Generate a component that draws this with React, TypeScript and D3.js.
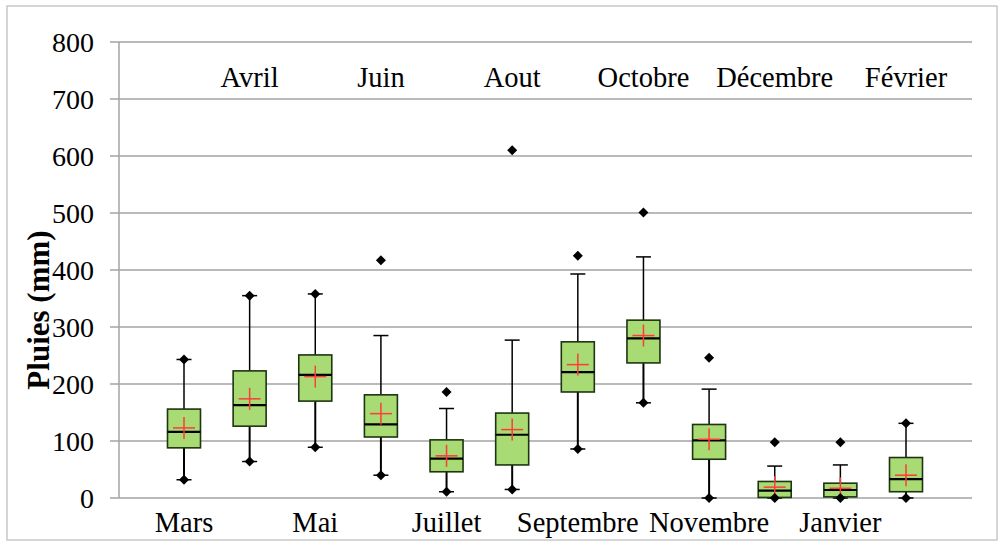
import React from "react";
import * as d3 from "d3";

const months = ["Mars","Avril","Mai","Juin","Juillet","Aout","Septembre","Octobre","Novembre","Décembre","Janvier","Février"];
const q1 = [88,126,170,107,46,58,186,237,68,1,2,11];
const median = [116,163,216,129,69,111,221,280,101,13,14,33];
const q3 = [156,223,251,181,102,149,274,312,129,29,26,71];
const whiskerLow = [32,64,89,40,11,15,86,167,0,0,0,0];
const whiskerHigh = [243,355,358,285,157,277,393,423,191,56,58,131];
const means = [123,174,213,148,74,120,234,285,103,19,17,40];
const maxPoints = [243,355,358,417,186,610,425,501,246,98,98,131];
const minPoints = [32,64,89,40,11,15,86,167,0,0,0,0];
const yTicks = [0,100,200,300,400,500,600,700,800];

const W = 1000, H = 542;
const plotLeft = 119, plotRight = 972, plotTop = 42, plotBottom = 498;

export default function App() {
  const x = d3.scalePoint<string>().domain(months).range([184, 906]);
  const y = d3.scaleLinear().domain([0, 800]).range([plotBottom, plotTop]);
  const boxW = 33, capW = 15, plusR = 11, dia = 5;
  const font = "Liberation Serif, Times New Roman, serif";
  const diamond = (cx: number, cy: number) =>
    `M${cx},${cy - dia}L${cx + dia},${cy}L${cx},${cy + dia}L${cx - dia},${cy}Z`;
  return (
    <svg width={W} height={H} style={{ position: "absolute", left: 0, top: 0, background: "#fff" }}>
      <rect x={7} y={6} width={990} height={534} fill="#fff" stroke="#c8c8c8" strokeWidth={1.5} />
      {yTicks.map((t) => (
        <g key={t}>
          <line x1={110} x2={plotRight} y1={y(t)} y2={y(t)} stroke="#a3a3a3" strokeWidth={1.5} />
          <text x={94} y={y(t)} textAnchor="end" dominantBaseline="central" fontSize={28} fontFamily={font} fill="#000">{t}</text>
        </g>
      ))}
      <line x1={plotLeft} x2={plotLeft} y1={plotTop} y2={plotBottom} stroke="#a3a3a3" strokeWidth={1.5} />
      <text transform="translate(38,310) rotate(-90)" textAnchor="middle" dominantBaseline="central" fontSize={31} fontWeight="bold" fontFamily={font}>Pluies (mm)</text>
      {months.map((m, i) => {
        const cx = x(m)!;
        return (
          <g key={m}>
            <line x1={cx} x2={cx} y1={y(q3[i])} y2={y(whiskerHigh[i])} stroke="#000" strokeWidth={1.5} />
            <line x1={cx} x2={cx} y1={y(q1[i])} y2={y(whiskerLow[i])} stroke="#000" strokeWidth={2} />
            <line x1={cx - capW / 2} x2={cx + capW / 2} y1={y(whiskerHigh[i])} y2={y(whiskerHigh[i])} stroke="#000" strokeWidth={1.5} />
            <line x1={cx - capW / 2} x2={cx + capW / 2} y1={y(whiskerLow[i])} y2={y(whiskerLow[i])} stroke="#000" strokeWidth={1.5} />
            <rect x={cx - boxW / 2} y={y(q3[i])} width={boxW} height={y(q1[i]) - y(q3[i])} fill="#a8db74" stroke="#1d3510" strokeWidth={1.6} />
            <line x1={cx - boxW / 2} x2={cx + boxW / 2} y1={y(median[i])} y2={y(median[i])} stroke="#000" strokeWidth={2.2} />
            <line x1={cx - plusR} x2={cx + plusR} y1={y(means[i])} y2={y(means[i])} stroke="#ff3b3b" strokeWidth={1.5} />
            <line x1={cx} x2={cx} y1={y(means[i]) - plusR} y2={y(means[i]) + plusR} stroke="#ff3b3b" strokeWidth={1.5} />
            <path d={diamond(cx, y(maxPoints[i]))} fill="#000" />
            <path d={diamond(cx, y(minPoints[i]))} fill="#000" />
            <text x={cx} y={i % 2 === 0 ? 532 : 87} textAnchor="middle" fontSize={28.5} fontFamily={font} fill="#000">{m}</text>
          </g>
        );
      })}
    </svg>
  );
}
